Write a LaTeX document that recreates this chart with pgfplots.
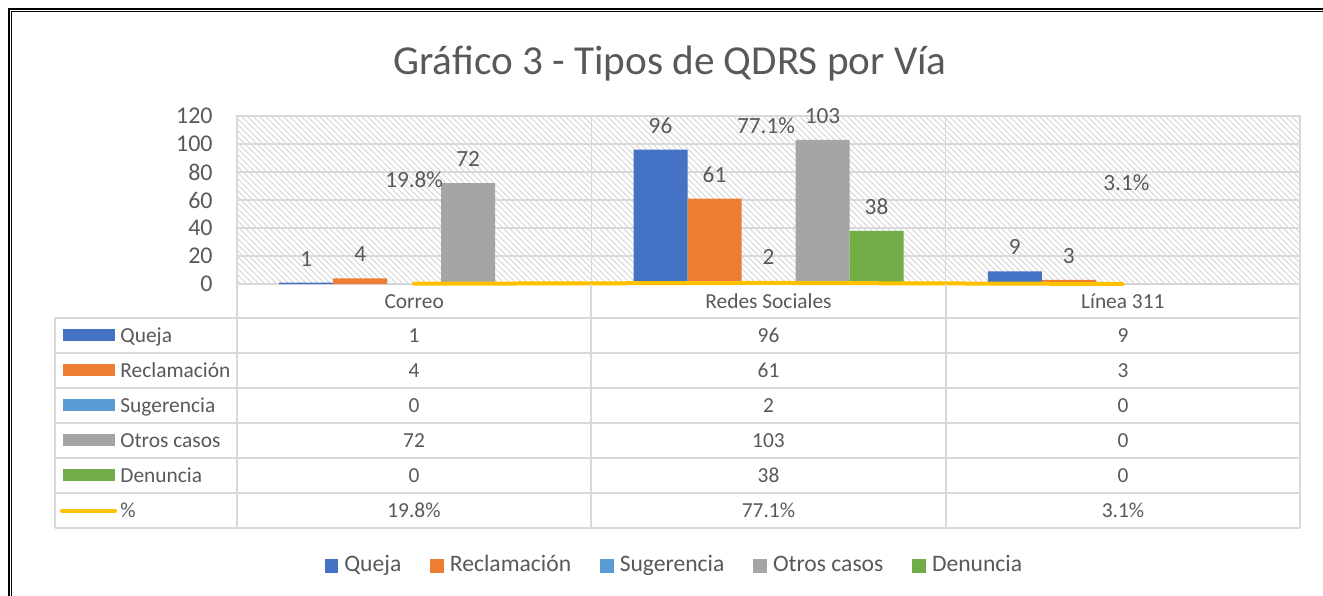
\documentclass[border=0pt]{standalone}
\usepackage{pgfplots}
\pgfplotsset{compat=1.18}
\usepackage{fontspec}
\setmainfont{Carlito}
\usetikzlibrary{patterns}
\definecolor{cq}{HTML}{4472C4}
\definecolor{cr}{HTML}{ED7D31}
\definecolor{cs}{HTML}{5B9BD5}
\definecolor{co}{HTML}{A5A5A5}
\definecolor{cd}{HTML}{70AD47}
\definecolor{cy}{HTML}{FFC000}
\definecolor{txt}{HTML}{595959}
\definecolor{gridc}{HTML}{D9D9D9}
\definecolor{hatchc}{HTML}{D4D4D4}
\newcommand{\nz}{\pgfmathfloatifflags{\pgfplotspointmeta}{0}{}{\pgfmathprintnumber{\pgfplotspointmeta}}}
\newcommand{\tfont}{\fontsize{10.7}{12.8}\selectfont}
\begin{document}
\begin{tikzpicture}
\begin{scope}[x=0.5pt,y=-0.5pt]
\fill[white] (0,0) rectangle (1323,595);
\useasboundingbox (0,0) rectangle (1323,595);
% frame
\draw[black, line width=1pt] (8.5,600) -- (8.5,9) -- (1323,9);
\draw[black, line width=0.5pt] (11.5,600) -- (11.5,11.8) -- (1323,11.8);
% title
\node[anchor=base, font=\fontsize{20.6}{24}\selectfont, text=txt, inner sep=0pt] at (670,74) {Gráfico 3 - Tipos de QDRS por Vía};
\end{scope}

\begin{axis}[
  at={(118.5pt,-142pt)}, anchor=south west,
  scale only axis, width=531.5pt, height=84pt,
  xmin=-0.5, xmax=2.5, ymin=0, ymax=120,
  clip=false,
  ytick={0,20,...,120},
  xtick={0,1,2},
  xticklabels={Correo, Redes Sociales, Línea 311},
  extra x ticks={0.5,1.5},
  extra x tick labels={},
  extra x tick style={grid=major},
  major tick length=0pt,
  tick style={draw=none},
  ymajorgrids,
  grid style={draw=gridc, line width=0.7pt},
  axis line style={draw=gridc, line width=0.7pt},
  axis background/.style={fill=white, postaction={pattern=north west lines, pattern color=hatchc}},
  /pgf/number format/assume math mode=true,
  yticklabel style={font=\fontsize{12}{14}\selectfont, text=txt, inner sep=0pt, anchor=east, xshift=-12pt},
  xticklabel style={font=\tfont, text=txt, inner sep=0pt, anchor=base, yshift=-12pt},
  every node near coord/.append style={font=\fontsize{11.6}{13}\selectfont, text=txt, anchor=center},
  legend style={at={(0.4106,-1.673)}, anchor=center, draw=none, fill=none,
    font=\fontsize{11.8}{14}\selectfont, text=txt, column sep=0pt,
    nodes={inner sep=0pt, anchor=base west},
    /tikz/every odd column/.append style={column sep=3pt},
    /tikz/every even column/.append style={column sep=14.5pt}},
  legend columns=5,
  legend image code/.code={\draw[#1, draw=none] (0pt,-0.6pt) rectangle (6.8pt,6.2pt);},
]
\addplot[ybar, bar width=27pt, bar shift=-54pt, fill=cq, draw=none,
  nodes near coords=\nz, every node near coord/.append style={yshift=12pt, xshift=-54pt}]
  coordinates {(0,1) (1,96) (2,9)};
\addlegendentry{Queja}
\addplot[ybar, bar width=27pt, bar shift=-27pt, fill=cr, draw=none,
  nodes near coords=\nz, every node near coord/.append style={yshift=12pt, xshift=-27pt}]
  coordinates {(0,4) (1,61) (2,3)};
\addlegendentry{Reclamación}
\addplot[ybar, bar width=27pt, bar shift=0pt, fill=cs, draw=none,
  nodes near coords=\nz, every node near coord/.append style={yshift=12pt}]
  coordinates {(0,0) (1,2) (2,0)};
\addlegendentry{Sugerencia}
\addplot[ybar, bar width=27pt, bar shift=27pt, fill=co, draw=none,
  nodes near coords=\nz, every node near coord/.append style={yshift=12pt, xshift=27pt}]
  coordinates {(0,72) (1,103) (2,0)};
\addlegendentry{Otros casos}
\addplot[ybar, bar width=27pt, bar shift=54pt, fill=cd, draw=none,
  nodes near coords=\nz, every node near coord/.append style={yshift=12pt, xshift=54pt}]
  coordinates {(0,0) (1,38) (2,0)};
\addlegendentry{Denuncia}
\addplot[sharp plot, draw=cy, line width=2pt, line cap=round, mark=none, forget plot]
  coordinates {(0,0.198) (1,0.771) (2,0.031)};
\addplot[draw=none, mark=none, forget plot, nodes near coords, point meta=explicit symbolic]
  coordinates {(0,74.3) [19.8\%] (0.993,112.9) [77.1\%] (2.01,72.1) [3.1\%]};
\end{axis}

\begin{scope}[x=0.5pt,y=-0.5pt]
% data table grid
\foreach \r in {318,353,388,423,458,493,528} {\draw[gridc, line width=0.7pt] (55,\r) -- (1300,\r);}
\draw[gridc, line width=0.7pt] (55,318) -- (55,528);
\foreach \c in {237,591,946,1300} {\draw[gridc, line width=0.7pt] (\c,284) -- (\c,528);}
% legend keys
\foreach \col/\lab [count=\i from 0] in {cq/Queja, cr/Reclamación, cs/Sugerencia, co/Otros casos, cd/Denuncia} {
  \pgfmathsetmacro{\yc}{335+35*\i}
  \fill[\col] (63,\yc-6) rectangle (115,\yc+6);
  \node[anchor=base west, inner sep=0pt, font=\tfont, text=txt] at (120,\yc+7) {\lab};
}
\draw[cy, line width=2pt, line cap=round] (62,510.5) -- (115,510.5);
\node[anchor=base west, inner sep=0pt, font=\tfont, text=txt] at (120,517) {\%};
% values
\foreach \a/\b/\c [count=\i from 0] in {1/96/9, 4/61/3, 0/2/0, 72/103/0, 0/38/0, 19.8\%/77.1\%/3.1\%} {
  \pgfmathsetmacro{\yc}{342+35*\i}
  \node[anchor=base, inner sep=0pt, font=\tfont, text=txt] at (414,\yc) {\a};
  \node[anchor=base, inner sep=0pt, font=\tfont, text=txt] at (768.5,\yc) {\b};
  \node[anchor=base, inner sep=0pt, font=\tfont, text=txt] at (1123,\yc) {\c};
}
\end{scope}
\end{tikzpicture}
\end{document}
